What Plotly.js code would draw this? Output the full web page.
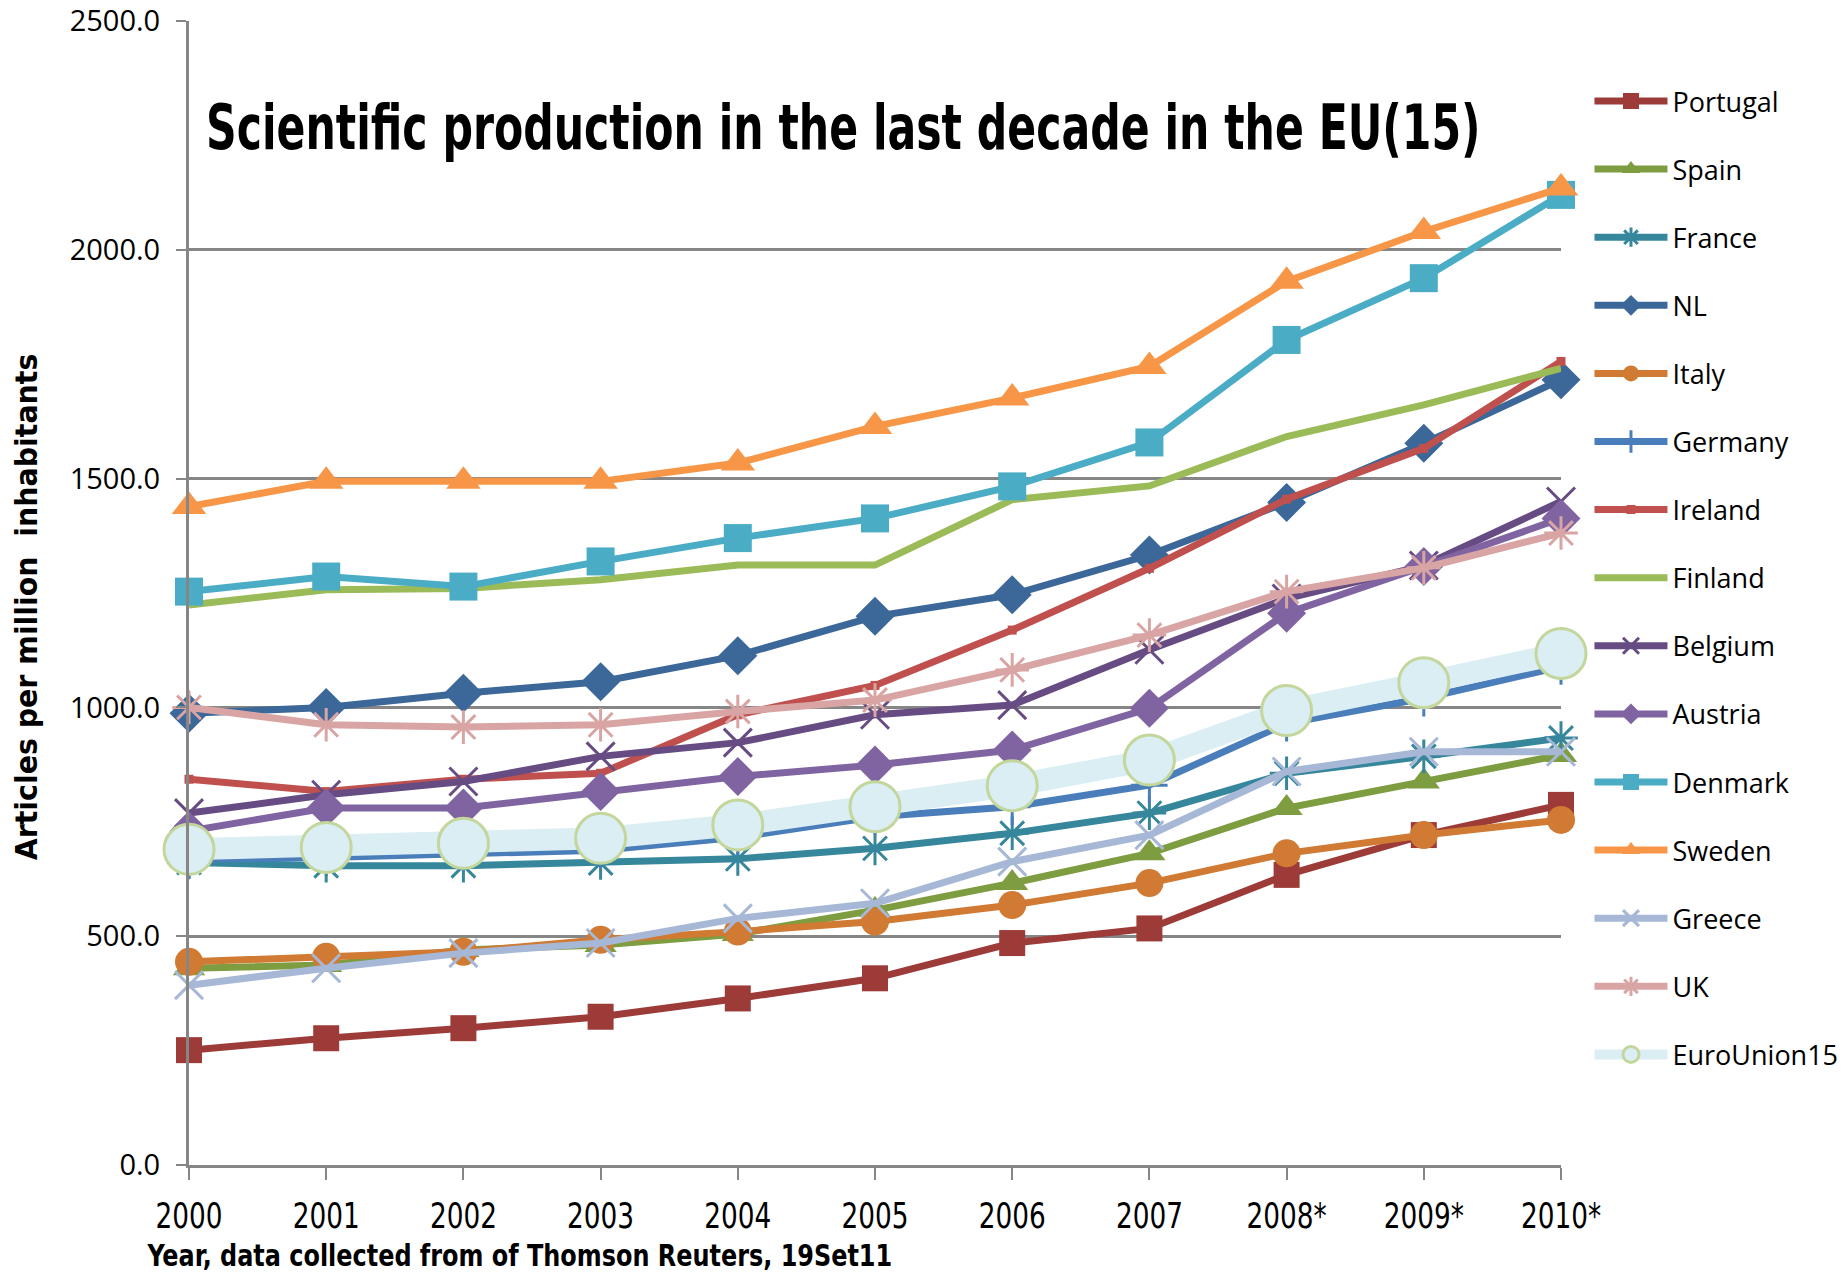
<!DOCTYPE html>
<html>
<head>
<meta charset="utf-8">
<script src="https://cdn.plot.ly/plotly-3.0.1.min.js"></script>
<style>html,body{margin:0;padding:0;background:#fff;}#chart{width:1847px;height:1274px;}</style>
</head>
<body>
<div id="chart"></div>
<script>
var years = ['2000','2001','2002','2003','2004','2005','2006','2007','2008*','2009*','2010*'];
var portugal = [251, 277, 299, 324, 364, 408, 485, 517, 634, 721, 787];
var spain    = [430, 437, 470, 481, 505, 557, 616, 681, 780, 838, 896];
var france   = [661, 654, 654, 660, 669, 692, 725, 769, 856, 893, 933];
var nl       = [987, 1000, 1031, 1056, 1113, 1199, 1246, 1333, 1448, 1577, 1716];
var italy    = [444, 455, 466, 492, 510, 532, 568, 616, 681, 721, 754];
var germany  = [668, 672, 680, 688, 716, 761, 783, 830, 965, 1020, 1089];
var ireland  = [843, 816, 843, 856, 984, 1048, 1169, 1304, 1455, 1566, 1756];
var finland  = [1224, 1257, 1260, 1279, 1311, 1311, 1454, 1484, 1592, 1661, 1741];
var belgium  = [769, 809, 838, 893, 923, 984, 1005, 1126, 1238, 1310, 1450];
var austria  = [730, 780, 780, 816, 849, 874, 907, 998, 1206, 1308, 1413];
var denmark  = [1253, 1286, 1264, 1319, 1370, 1413, 1483, 1579, 1803, 1938, 2120];
var sweden   = [1439, 1494, 1494, 1494, 1534, 1614, 1676, 1745, 1931, 2040, 2135];
var greece   = [393, 430, 463, 485, 539, 572, 663, 721, 860, 903, 903];
var uk       = [1000, 962, 957, 962, 991, 1016, 1082, 1158, 1253, 1305, 1381];
var eu15     = [690, 694, 703, 714, 743, 783, 829, 885, 993, 1054, 1118];

var xi = years.map(function(_, i){ return i; });

function tr(name, y, color, symbol, msize, opts) {
  opts = opts || {};
  var t = {
    type: 'scatter', mode: symbol ? 'lines+markers' : 'lines',
    name: name, x: xi, y: y, legendgroup: name, cliponaxis: false,
    line: {color: opts.lineColor || color, width: opts.lineWidth || 7},
  };
  if (symbol) {
    var open = symbol.indexOf('open') >= 0;
    t.marker = {symbol: symbol, size: msize, color: opts.markerColor || color,
      line: open ? {color: color, width: 3} : (opts.markerLine || {width: 0})};
  }
  return t;
}

var data = [
  tr('Portugal', portugal, '#9C3B38', 'square', 26),
  tr('Spain', spain, '#7E9C40', 'triangle-up', 28),
  tr('France', france, '#36879C', 'asterisk-open', 28),
  tr('NL', nl, '#3C6799', 'diamond', 30),
  tr('Italy', italy, '#D07A34', 'circle', 28),
  tr('Germany', germany, '#4A7EBB', 'cross-thin-open', 26),
  tr('Ireland', ireland, '#C0504D', 'square', 9),
  tr('Finland', finland, '#9BBB59', null, 0),
  tr('Belgium', belgium, '#674C84', 'x-thin-open', 28),
  tr('Austria', austria, '#8064A2', 'diamond', 30),
  tr('Denmark', denmark, '#4BACC6', 'square', 28),
  tr('Sweden', sweden, '#F79646', 'triangle-up', 30),
  tr('Greece', greece, '#A6B8D6', 'x-thin-open', 28),
  tr('UK', uk, '#D8A5A4', 'asterisk-open', 28),
  tr('EuroUnion15', eu15, '#DAEEF3', 'circle', 50, {lineWidth: 22, markerColor: '#DAEEF3', markerLine: {color: '#C3D69B', width: 3}})
];

var narrow = '"DejaVu Sans Condensed", sans-serif';

var layout = {
  width: 1847, height: 1274,
  paper_bgcolor: '#ffffff', plot_bgcolor: '#ffffff',
  margin: {l: 188.5, r: 285.5, t: 21.2, b: 109, pad: 0, autoexpand: false},
  showlegend: true,
  legend: {
    x: (1590 - 188.5) / 1373, xanchor: 'left', y: 1 - (100 - 21.2) / 1143.8 + 0.02, yanchor: 'top',
    font: {family: '"Open Sans", sans-serif', size: 27, color: '#000'},
    traceorder: 'grouped', tracegroupgap: 30, bgcolor: 'rgba(0,0,0,0)', itemwidth: 73
  },
  xaxis: {
    range: [0, 10], tickmode: 'array', tickvals: xi, ticktext: years,
    showgrid: false, zeroline: false, showline: true, linecolor: '#868686', linewidth: 3,
    ticks: 'outside', ticklen: 12, tickwidth: 1.5, tickcolor: '#868686',
    ticklabelstandoff: 5,
    tickfont: {family: narrow, size: 36, color: '#000'}
  },
  yaxis: {
    range: [0, 2500], tickmode: 'linear', tick0: 0, dtick: 500, tickformat: '.1f',
    showgrid: true, gridcolor: '#868686', gridwidth: 2.5, zeroline: false,
    showline: true, linecolor: '#868686', linewidth: 3,
    ticks: 'outside', ticklen: 10, tickwidth: 2, tickcolor: '#868686',
    ticklabelstandoff: 10,
    tickfont: {family: '"Open Sans", sans-serif', size: 29, color: '#000'}
  },
  annotations: [
    {text: 'Scientific production in the last decade in the EU(15)', xref: 'paper', yref: 'paper',
     x: (843.5 - 188.5) / 1373, y: 1 - (128 - 21.2) / 1143.8, xanchor: 'center', yanchor: 'middle', showarrow: false,
     font: {family: narrow, size: 62, color: '#000', weight: 'bold'}},
    {text: 'Year, data collected from of Thomson Reuters, 19Set11', xref: 'paper', yref: 'paper',
     x: (519 - 188.5) / 1373, y: -(1255 - 1165) / 1143.8, xanchor: 'center', yanchor: 'middle', showarrow: false,
     font: {family: narrow, size: 30, color: '#000', weight: 'bold'}},
    {text: 'Articles per million  inhabitants', xref: 'paper', yref: 'paper', textangle: -90,
     x: (26 - 188.5) / 1373, y: 1 - (607 - 21.2) / 1143.8, xanchor: 'center', yanchor: 'middle', showarrow: false,
     font: {family: narrow, size: 30, color: '#000', weight: 'bold'}}
  ]
};

function squeeze(el, s) {
  var bb = el.getBBox();
  var cx = bb.x + bb.width / 2;
  var t = el.getAttribute('transform') || '';
  el.setAttribute('transform', t + ' translate(' + cx + ',0) scale(' + s + ',1) translate(' + (-cx) + ',0)');
}

Plotly.newPlot('chart', data, layout, {displayModeBar: false, responsive: false}).then(function(gd) {
  var targets = [1275, 746, 507];
  var anns = gd.querySelectorAll('.annotation-text');
  for (var i = 0; i < anns.length && i < targets.length; i++) {
    var w = anns[i].getBBox().width;
    if (w > 0) squeeze(anns[i], targets[i] / w);
  }
  var xt = gd.querySelectorAll('.xtick text');
  if (xt.length) {
    var w0 = xt[0].getBBox().width;
    var s = w0 > 0 ? 67 / w0 : 1;
    for (var j = 0; j < xt.length; j++) squeeze(xt[j], s);
  }
});
</script>
</body>
</html>
